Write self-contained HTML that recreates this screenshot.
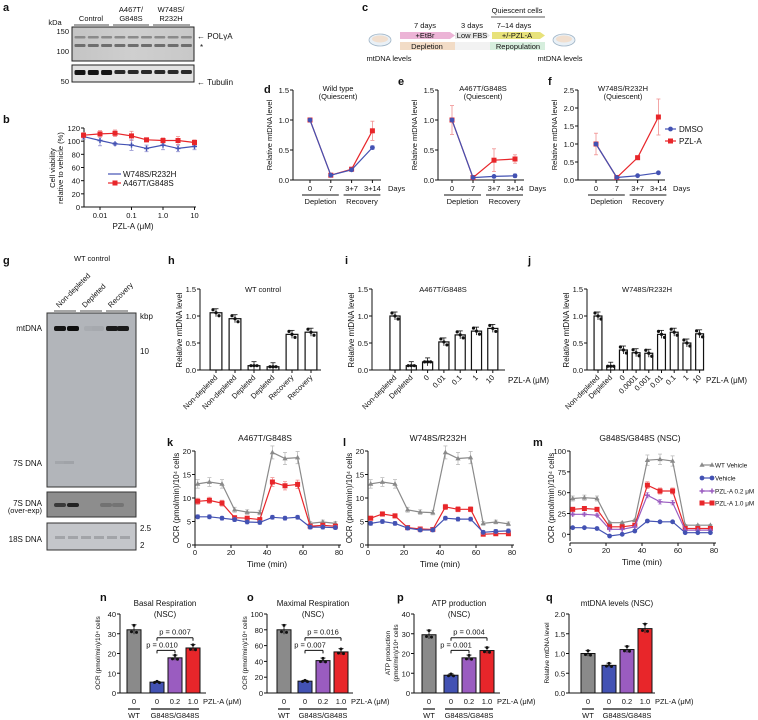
<!DOCTYPE html>
<html><head><meta charset="utf-8">
<style>
html,body{margin:0;padding:0;background:#fff;}
svg{display:block;font-family:"Liberation Sans",Arial,sans-serif;}
</style></head>
<body>
<svg id="fig" width="758" height="720" viewBox="0 0 758 720" xmlns="http://www.w3.org/2000/svg">
<defs>
<linearGradient id="blotg" x1="0" y1="0" x2="1" y2="0"><stop offset="0" stop-color="#c4c4c4"/><stop offset="0.5" stop-color="#cfcfcf"/><stop offset="1" stop-color="#c8c8c8"/></linearGradient>
</defs>
</svg>
<script>
// ---------- DATA ----------
const bConc = [0.003, 0.01, 0.03, 0.1, 0.3, 1, 3, 10];
const bBlue = [107, 101, 96, 94, 89, 94, 89, 92];
const bRed = [109, 111, 112, 108, 102, 101, 101, 98];
const bTicksY = [0, 20, 40, 60, 80, 100, 120];
const bTicksX = [0.01, 0.1, 1, 10];
const bTickLabels = ["0.01", "0.1", "1.0", "10"];
const qDays = ["0", "7", "3+7", "3+14"];
const dBlue = [1.0, 0.08, 0.17, 0.54];
const dRed = [1.0, 0.08, 0.18, 0.82];
const eBlue = [1.0, 0.04, 0.06, 0.07];
const eRed = [1.0, 0.04, 0.33, 0.35];
const fBlue = [1.0, 0.07, 0.12, 0.20];
const fRed = [1.0, 0.07, 0.62, 1.75];
const fRedErr = [0.3, 0.03, 0.05, 0.5];
const eRedErr = [0.24, 0.02, 0.19, 0.07];
const hCats = ["Non-depleted", "Non-depleted", "Depleted", "Depleted", "Recovery", "Recovery"];
const hVals = [1.06, 0.95, 0.08, 0.06, 0.66, 0.70];
const iCats = ["Non-depleted", "Depleted", "0", "0.01", "0.1", "1", "10"];
const iVals = [1.0, 0.08, 0.15, 0.52, 0.65, 0.72, 0.77];
const jCats = ["Non-depleted", "Depleted", "0", "0.0001", "0.001", "0.01", "0.1", "1", "10"];
const jVals = [1.0, 0.07, 0.37, 0.32, 0.31, 0.66, 0.70, 0.50, 0.67];
const times = [1.5, 8, 15, 22, 29, 36, 43, 50, 57, 64, 71, 78];
const kGray = [13, 13.4, 13, 7.5, 7, 6.9, 19.7, 18.4, 18.6, 4.6, 4.9, 4.6];
const kRed = [9.3, 9.5, 8.9, 5.8, 5.7, 5.4, 13.4, 12.6, 12.9, 4.0, 4.2, 4.0];
const kBlue = [6, 6, 5.7, 5.4, 4.9, 4.8, 5.9, 5.7, 5.9, 3.8, 3.8, 3.7];
const lGray = [13, 13.4, 13, 7.5, 7, 6.9, 19.7, 18.4, 18.6, 4.6, 4.9, 4.5];
const lRed = [5.7, 6.6, 6.2, 3.7, 3.4, 3.3, 8.1, 7.6, 7.6, 2.3, 2.4, 2.4];
const lBlue = [4.6, 5.0, 4.6, 3.6, 3.2, 3.2, 5.7, 5.5, 5.5, 2.7, 2.9, 3.0];
const mGray = [43, 44, 43, 14, 14, 17, 89, 90, 88, 11, 11, 11];
const mRed = [30, 31, 30, 9, 9, 11, 59, 52, 52, 7, 7, 7];
const mPurple = [24, 24, 23, 6, 6, 9, 47, 39, 38, 5, 5, 5];
const mBlue = [8, 8, 7, -2, 0, 4, 16, 15, 15, 2, 2, 2];
const nVals = [32, 5.5, 17.8, 22.8];
const oVals = [80, 15, 41, 52];
const pVals = [29.5, 9, 17.8, 21.5];
const qVals = [1.0, 0.7, 1.1, 1.63];
const nopqLabels = ["0", "0", "0.2", "1.0"];

// ---------- HELPERS ----------
const svg = document.getElementById('fig');
const NS = 'http://www.w3.org/2000/svg';
const RED = '#e8262a', BLUE = '#4352b3', GRAY = '#8a8a8a', PURPLE = '#9a5cc0';
function mk(tag, attrs, name) {
  const el = document.createElementNS(NS, tag);
  for (const k in attrs) el.setAttribute(k, attrs[k]);
  
  
  svg.appendChild(el);
  return el;
}
function txt(x, y, s, name, size, anchor, opts) {
  opts = opts || {};
  const a = {x: x, y: y, 'font-size': size || 8, 'text-anchor': anchor || 'middle', fill: opts.fill || '#111'};
  if (opts.rot !== undefined) a.transform = 'rotate(' + opts.rot + ' ' + x + ' ' + y + ')';
  if (opts.bold) a['font-weight'] = 'bold';
  const t = mk('text', a, name);
  t.textContent = s;
  return t;
}
function line(x1, y1, x2, y2, name, color, w) {
  return mk('line', {x1: x1, y1: y1, x2: x2, y2: y2, stroke: color || '#111', 'stroke-width': w || 1}, name);
}
function lin(d0, d1, r0, r1) { return v => r0 + (v - d0) * (r1 - r0) / (d1 - d0); }
function yAxis(x, scale, ticks, fmt, name) {
  line(x, scale(ticks[0]), x, scale(ticks[ticks.length - 1]), name + '-line');
  ticks.forEach(t => {
    line(x - 3, scale(t), x, scale(t), name + '-tick');
    txt(x - 4, scale(t) + 3, fmt(t), name + '-label', 7.5, 'end');
  });
}
function series(xs, ys, sx, sy, color, marker, name) {
  const pts = xs.map((x, i) => sx(x).toFixed(1) + ',' + sy(ys[i]).toFixed(1)).join(' ');
  mk('polyline', {points: pts, fill: 'none', stroke: color, 'stroke-width': 1.2}, name + '-line');
  xs.forEach((x, i) => {
    const cx = sx(x), cy = sy(ys[i]);
    if (marker === 'sq') mk('rect', {x: cx - 2.5, y: cy - 2.5, width: 5, height: 5, fill: color}, name + '-point');
    else if (marker === 'tri') mk('polygon', {points: (cx) + ',' + (cy - 2.8) + ' ' + (cx - 2.6) + ',' + (cy + 1.8) + ' ' + (cx + 2.6) + ',' + (cy + 1.8), fill: color}, name + '-point');
    else if (marker === 'plus') { line(cx - 2.5, cy, cx + 2.5, cy, name + '-point', color, 1.5); line(cx, cy - 2.5, cx, cy + 2.5, name + '-point', color, 1.5); }
    else mk('circle', {cx: cx, cy: cy, r: 2.4, fill: color}, name + '-point');
  });
}
function errbars(xs, ys, es, sx, sy, color, name) {
  xs.forEach((x, i) => {
    const cx = sx(x);
    line(cx, sy(ys[i] - es[i]), cx, sy(ys[i] + es[i]), name, color, 0.8);
    line(cx - 2, sy(ys[i] + es[i]), cx + 2, sy(ys[i] + es[i]), name, color, 0.8);
    line(cx - 2, sy(ys[i] - es[i]), cx + 2, sy(ys[i] - es[i]), name, color, 0.8);
  });
}
function letter(x, y, s) { txt(x, y, s, 'panel-label-' + s, 11, 'start', {bold: true}); }

// ---------- PANEL A ----------
letter(3, 11, 'a');
txt(55, 25, 'kDa', 'a-kda-label', 7.5, 'middle');
[['Control', 91, 74, 109], ['A467T/', 131, 113, 149, 'G848S'], ['W748S/', 171, 153, 190, 'R232H']].forEach(g => {
  if (g[4]) { txt(g[1], 12, g[0], 'a-lane-group-label', 7.5); txt(g[1], 21, g[4], 'a-lane-group-label', 7.5); }
  else txt(g[1], 21, g[0], 'a-lane-group-label', 7.5);
  line(g[2], 25, g[3], 25, 'a-lane-group-line', '#888', 1.5);
});
mk('rect', {x: 72, y: 27, width: 122, height: 34, fill: 'url(#blotg)', stroke: '#222', 'stroke-width': 1}, 'a-blot-polga');
mk('rect', {x: 72, y: 65, width: 122, height: 17, fill: '#e2e2e2', stroke: '#222', 'stroke-width': 1}, 'a-blot-tubulin');
for (let i = 0; i < 9; i++) {
  const cx = 80 + i * 13.3;
  mk('rect', {x: cx - 5.5, y: 36, width: 11, height: 2.5, fill: '#8a8a8a', rx: 1}, 'a-band-polga');
  mk('rect', {x: cx - 5.5, y: 44, width: 11, height: 3, fill: '#6e6e6e', rx: 1}, 'a-band-nonspecific');
  mk('rect', {x: cx - 5.5, y: 70, width: 11, height: i < 3 ? 5 : 4, fill: i < 3 ? '#151515' : '#2a2a2a', rx: 1.5}, 'a-band-tubulin');
}
txt(69, 34, '150', 'a-mw-150', 7.5, 'end');
txt(69, 54, '100', 'a-mw-100', 7.5, 'end');
txt(69, 84, '50', 'a-mw-50', 7.5, 'end');
txt(197, 39, '← POLγA', 'a-polga-label', 8, 'start');
txt(200, 50, '*', 'a-star', 8, 'start');
txt(197, 85, '← Tubulin', 'a-tubulin-label', 8, 'start');

// ---------- PANEL B ----------
letter(3, 123, 'b');
const bx = v => 100 + (Math.log10(v) + 2) * 31.5;
const by = lin(0, 120, 207, 128);
yAxis(84, by, bTicksY, t => t, 'b-y-axis');
line(84, 207, 196, 207, 'b-x-axis');
bTicksX.forEach((t, i) => { line(bx(t), 207, bx(t), 210, 'b-x-tick'); txt(bx(t), 218, bTickLabels[i], 'b-x-tick-label', 7.5); });
txt(133, 229, 'PZL-A (μM)', 'b-x-axis-title', 8);
txt(55, 168, 'Cell viability', 'b-y-axis-title', 7.5, 'middle', {rot: -90});
txt(63, 168, 'relative to vehicle (%)', 'b-y-axis-title', 7.5, 'middle', {rot: -90});
errbars(bConc, bRed, [4, 5, 5, 7, 3, 4, 6, 4], bx, by, '#f09090', 'b-red-errorbar');
errbars(bConc, bBlue, [4, 8, 2, 8, 5, 7, 5, 5], bx, by, '#9090d0', 'b-blue-errorbar');
series(bConc, bBlue, bx, by, BLUE, 'plus', 'b-w748s');
series(bConc, bRed, bx, by, RED, 'sq', 'b-a467t');
line(108, 174, 121, 174, 'b-legend-w748s-line', BLUE, 1.2);
line(108, 183, 121, 183, 'b-legend-a467t-line', RED, 1.2);
mk('rect', {x: 112.5, y: 180.5, width: 5, height: 5, fill: RED}, 'b-legend-a467t-marker');
txt(123, 177, 'W748S/R232H', 'b-legend-w748s', 8, 'start');
txt(123, 186, 'A467T/G848S', 'b-legend-a467t', 8, 'start');

// ---------- PANEL C ----------
letter(362, 11, 'c');
function dish(cx, cy, nm) {
  mk('ellipse', {cx: cx, cy: cy, rx: 11, ry: 6, fill: '#e9f0f6', stroke: '#9fb4c6', 'stroke-width': 0.8}, nm);
  mk('ellipse', {cx: cx, cy: cy - 1, rx: 8, ry: 3.5, fill: '#f1dfcf', stroke: 'none'}, nm + '-cells');
}
dish(380, 40, 'c-dish-start');
dish(564, 40, 'c-dish-end');
txt(389, 61, 'mtDNA levels', 'c-start-label', 7.5);
txt(560, 61, 'mtDNA levels', 'c-end-label', 7.5);
mk('polygon', {points: '400,32 450,32 455,35.5 450,39 400,39', fill: '#ecb4d6'}, 'c-etbr-arrow');
mk('polygon', {points: '455,32 486,32 490,35.5 486,39 455,39', fill: '#e6e6e6'}, 'c-lowfbs-arrow');
mk('polygon', {points: '492,32 540,32 545,35.5 540,39 492,39', fill: '#e8e27a'}, 'c-pzla-arrow');
mk('rect', {x: 400, y: 42, width: 55, height: 8, fill: '#f2dcc6'}, 'c-depletion-bar');
mk('rect', {x: 455, y: 42, width: 35, height: 8, fill: '#f2f2f2'}, 'c-gap-bar');
mk('rect', {x: 490, y: 42, width: 55, height: 8, fill: '#d6eedd'}, 'c-repopulation-bar');
txt(425, 38, '+EtBr', 'c-etbr-text', 7.5);
txt(472, 38, 'Low FBS', 'c-lowfbs-text', 7.5);
txt(517, 38, '+/-PZL-A', 'c-pzla-text', 7.5);
txt(427, 49, 'Depletion', 'c-depletion-text', 7.5);
txt(518, 49, 'Repopulation', 'c-repopulation-text', 7.5);
txt(425, 28, '7 days', 'c-7days', 7.5);
txt(472, 28, '3 days', 'c-3days', 7.5);
txt(514, 28, '7–14 days', 'c-714days', 7.5);
txt(517, 13, 'Quiescent cells', 'c-quiescent-label', 7.5);
line(491, 17, 545, 17, 'c-quiescent-line', '#222', 0.8);

// ---------- PANELS D E F ----------
function quiescent(opt) {
  const sx = i => opt.x0 + i * opt.dx;
  const sy = lin(0, opt.max, 180, 90);
  const idx = [0, 1, 2, 3];
  yAxis(opt.ax, sy, opt.ticks, t => t.toFixed(1), opt.id + '-y-axis');
  line(opt.ax, 180, opt.ax + opt.len, 180, opt.id + '-x-axis');
  qDays.forEach((d, i) => { line(sx(i), 180, sx(i), 183, opt.id + '-x-tick'); txt(sx(i), 191, d, opt.id + '-x-tick-label', 7.5); });
  txt(opt.daysX, 191, 'Days', opt.id + '-days-label', 7.5, 'start');
  line(sx(0) - 8, 195, sx(1) + 8, 195, opt.id + '-depletion-line');
  line(sx(2) - 8, 195, sx(3) + 8, 195, opt.id + '-recovery-line');
  txt((sx(0) + sx(1)) / 2, 204, 'Depletion', opt.id + '-depletion-label', 7.5);
  txt((sx(2) + sx(3)) / 2, 204, 'Recovery', opt.id + '-recovery-label', 7.5);
  txt(opt.ax - 21, 135, 'Relative mtDNA level', opt.id + '-y-axis-title', 7.5, 'middle', {rot: -90});
  txt(opt.ax + 45, 91, opt.title, opt.id + '-title', 7.5);
  txt(opt.ax + 45, 99, '(Quiescent)', opt.id + '-subtitle', 7.5);
  if (opt.rErr) errbars(idx, opt.red, opt.rErr, sx, sy, '#f09090', opt.id + '-red-errorbar');
  errbars(idx, opt.blue, [0.03, 0.01, 0.01, 0.03], sx, sy, '#9090d0', opt.id + '-blue-errorbar');
  series(idx, opt.red, sx, sy, RED, 'sq', opt.id + '-pzla');
  series(idx, opt.blue, sx, sy, BLUE, 'circ', opt.id + '-dmso');
}
letter(264, 93, 'd');
quiescent({id: 'd', x0: 310, dx: 20.8, ax: 293, len: 88, max: 1.5, ticks: [0, 0.5, 1.0, 1.5], blue: dBlue, red: dRed, rErr: [0.03, 0.01, 0.02, 0.16], title: 'Wild type', daysX: 388});
letter(398, 85, 'e');
quiescent({id: 'e', x0: 452, dx: 21, ax: 438, len: 86, max: 1.5, ticks: [0, 0.5, 1.0, 1.5], blue: eBlue, red: eRed, rErr: eRedErr, title: 'A467T/G848S', daysX: 529});
letter(548, 85, 'f');
quiescent({id: 'f', x0: 596, dx: 20.8, ax: 578, len: 87, max: 2.5, ticks: [0, 0.5, 1.0, 1.5, 2.0, 2.5], blue: fBlue, red: fRed, rErr: fRedErr, title: 'W748S/R232H', daysX: 673});
line(665, 129, 676, 129, 'f-legend-dmso-line', BLUE, 1.2);
mk('circle', {cx: 670.5, cy: 129, r: 2.4, fill: BLUE}, 'f-legend-dmso-marker');
txt(679, 132, 'DMSO', 'f-legend-dmso', 8, 'start');
line(665, 141, 676, 141, 'f-legend-pzla-line', RED, 1.2);
mk('rect', {x: 668, y: 138.5, width: 5, height: 5, fill: RED}, 'f-legend-pzla-marker');
txt(679, 144, 'PZL-A', 'f-legend-pzla', 8, 'start');

// ---------- PANEL G ----------
letter(3, 264, 'g');
txt(92, 261, 'WT control', 'g-title', 7.5);
[['Non-depleted', 65, 54, 76], ['Depleted', 91, 80, 102], ['Recovery', 117, 106, 128]].forEach(l => {
  txt(l[1] - 6, 308, l[0], 'g-lane-label', 7.5, 'start', {rot: -45});
  line(l[2], 311, l[3], 311, 'g-lane-line', '#888', 1.5);
});
mk('rect', {x: 47, y: 313, width: 89, height: 174, fill: '#b2b5ba', stroke: '#333', 'stroke-width': 1}, 'g-southern-blot');
mk('rect', {x: 47, y: 492, width: 89, height: 25, fill: '#8d8d8d', stroke: '#333', 'stroke-width': 1}, 'g-7s-overexp-blot');
mk('rect', {x: 47, y: 523, width: 89, height: 27, fill: '#c4c6ca', stroke: '#333', 'stroke-width': 1}, 'g-18s-blot');
[[60, '#151515'], [73, '#0d0d0d'], [90, '#a8abb0'], [98, '#a6a9ae'], [112, '#1a1a1a'], [123, '#1a1a1a']].forEach(b => {
  mk('rect', {x: b[0] - 6, y: 326, width: 12, height: 5, rx: 2, fill: b[1]}, 'g-mtdna-band');
});
[[60, '#a3a6ab'], [69, '#a0a3a8']].forEach(b => mk('rect', {x: b[0] - 5, y: 461, width: 10, height: 3, fill: b[1]}, 'g-7s-band'));
[[60, '#3a3a3a'], [73, '#222'], [106, '#727272'], [118, '#747474']].forEach(b => mk('rect', {x: b[0] - 6, y: 503, width: 12, height: 4, rx: 2, fill: b[1]}, 'g-7s-overexp-band'));
for (let i = 0; i < 6; i++) mk('rect', {x: 55 + i * 13, y: 536, width: 10, height: 3, fill: '#a2a4a8'}, 'g-18s-band');
txt(42, 331, 'mtDNA', 'g-mtdna-label', 8, 'end');
txt(140, 319, 'kbp', 'g-kbp-label', 8, 'start');
txt(140, 354, '10', 'g-10kbp', 8, 'start');
txt(42, 466, '7S DNA', 'g-7s-label', 8, 'end');
txt(42, 506, '7S DNA', 'g-7s-overexp-label', 8, 'end');
txt(42, 513, '(over-exp)', 'g-7s-overexp-sub', 7.5, 'end');
txt(42, 542, '18S DNA', 'g-18s-label', 8, 'end');
txt(140, 531, '2.5', 'g-25kbp', 8, 'start');
txt(140, 548, '2', 'g-2kbp', 8, 'start');

// ---------- PANELS H I J ----------
function barPanel(opt) {
  const sy = lin(0, 1.5, 370, 289);
  const sx = i => opt.x0 + i * opt.dx;
  yAxis(opt.ax, sy, [0, 0.5, 1.0, 1.5], t => t.toFixed(1), opt.id + '-y-axis');
  line(opt.ax, 370, opt.end, 370, opt.id + '-x-axis');
  opt.vals.forEach((v, i) => {
    const cx = sx(i), w = opt.dx * 0.62;
    mk('rect', {x: cx - w / 2, y: sy(v), width: w, height: 370 - sy(v), fill: '#fff', stroke: '#111', 'stroke-width': 1.2}, opt.id + '-bar-' + i);
    line(cx, sy(v) - 4, cx, sy(v) + 4, opt.id + '-errorbar', '#111', 0.8);
    line(cx - 2.5, sy(v) - 4, cx + 2.5, sy(v) - 4, opt.id + '-errorbar', '#111', 0.8);
    [-3, 0, 3].forEach((o, k) => mk('circle', {cx: cx + o, cy: sy(v) + (k - 1) * 3 * (v > 0.2 ? 1 : 0), r: 1.6, fill: '#111'}, opt.id + '-dot'));
    line(cx, 370, cx, 373, opt.id + '-x-tick');
    txt(cx + 2, 378, opt.cats[i], opt.id + '-x-tick-label', 7.5, 'end', {rot: -45});
  });
  txt(opt.ax - 18, 330, 'Relative mtDNA level', opt.id + '-y-axis-title', 8, 'middle', {rot: -90});
  txt(opt.titleX, 292, opt.title, opt.id + '-title', 7.5);
  if (opt.unit) txt(opt.end + 3, 383, 'PZL-A (μM)', opt.id + '-unit-label', 8, 'start');
}
letter(168, 264, 'h');
barPanel({id: 'h', ax: 200, x0: 216, dx: 19, end: 321, vals: hVals, cats: hCats, title: 'WT control', titleX: 263});
letter(345, 264, 'i');
barPanel({id: 'i', ax: 372, x0: 395, dx: 16.3, end: 505, vals: iVals, cats: iCats, title: 'A467T/G848S', titleX: 443, unit: true});
letter(528, 264, 'j');
barPanel({id: 'j', ax: 587, x0: 598, dx: 12.7, end: 703, vals: jVals, cats: jCats, title: 'W748S/R232H', titleX: 647, unit: true});

// ---------- PANELS K L M ----------
function ocrPanel(opt) {
  const sx = lin(0, 80, opt.ax, opt.ax + 144);
  const sy = lin(opt.min, opt.max, opt.y0, 451);
  line(opt.ax, sy(opt.min), opt.ax, 451, opt.id + '-y-axis-line');
  opt.ticks.forEach(t => { line(opt.ax - 3, sy(t), opt.ax, sy(t), opt.id + '-y-tick'); txt(opt.ax - 4, sy(t) + 3, t, opt.id + '-y-tick-label', 7.5, 'end'); });
  const xb = opt.min < 0 ? sy(opt.min) + 2 : opt.y0;
  line(opt.ax, xb, opt.ax + 146, xb, opt.id + '-x-axis');
  [0, 20, 40, 60, 80].forEach(t => { line(sx(t), xb, sx(t), xb + 3, opt.id + '-x-tick'); txt(sx(t), xb + 10, t, opt.id + '-x-tick-label', 7.5); });
  txt(opt.ax + 72, xb + 22, 'Time (min)', opt.id + '-x-axis-title', 8.5);
  txt(opt.ax - 16, 498, 'OCR (pmol/min)/10⁴ cells', opt.id + '-y-axis-title', 8, 'middle', {rot: -90});
  txt(opt.ax + 70, 441, opt.title, opt.id + '-title', 8.5);
  opt.series.forEach(s => {
    errbars(times, s.v, s.v.map(v => Math.max(0.4, Math.abs(v) * 0.07)), sx, sy, s.ec, opt.id + '-' + s.n + '-errorbar');
    series(times, s.v, sx, sy, s.c, s.m, opt.id + '-' + s.n);
  });
}
letter(167, 446, 'k');
ocrPanel({id: 'k', ax: 195, y0: 545, min: 0, max: 20, ticks: [0, 5, 10, 15, 20], title: 'A467T/G848S',
  series: [{n: 'wt-vehicle', v: kGray, c: GRAY, ec: '#bbb', m: 'tri'}, {n: 'pzla-1', v: kRed, c: RED, ec: '#f09090', m: 'sq'}, {n: 'vehicle', v: kBlue, c: BLUE, ec: '#9090d0', m: 'circ'}]});
letter(343, 446, 'l');
ocrPanel({id: 'l', ax: 368, y0: 545, min: 0, max: 20, ticks: [0, 5, 10, 15, 20], title: 'W748S/R232H',
  series: [{n: 'wt-vehicle', v: lGray, c: GRAY, ec: '#bbb', m: 'tri'}, {n: 'pzla-1', v: lRed, c: RED, ec: '#f09090', m: 'sq'}, {n: 'vehicle', v: lBlue, c: BLUE, ec: '#9090d0', m: 'circ'}]});
letter(533, 446, 'm');
ocrPanel({id: 'm', ax: 570, y0: 541, min: -8, max: 100, ticks: [0, 25, 50, 75, 100], title: 'G848S/G848S (NSC)',
  series: [{n: 'wt-vehicle', v: mGray, c: GRAY, ec: '#bbb', m: 'tri'}, {n: 'pzla-1', v: mRed, c: RED, ec: '#f09090', m: 'sq'}, {n: 'pzla-02', v: mPurple, c: PURPLE, ec: '#c8a8e0', m: 'plus'}, {n: 'vehicle', v: mBlue, c: BLUE, ec: '#9090d0', m: 'circ'}]});
[['WT Vehicle', GRAY, 'tri', 465], ['Vehicle', BLUE, 'circ', 478], ['PZL-A 0.2 μM', PURPLE, 'plus', 491], ['PZL-A 1.0 μM', RED, 'sq', 503]].forEach(l => {
  series([0, 1], [0, 0], i => 702 + i * 10, () => l[3], l[1], l[2], 'm-legend-marker');
  txt(715, l[3] + 2.5, l[0], 'm-legend-entry', 6.4, 'start');
});

// ---------- PANELS N O P Q ----------
function nsc(opt) {
  const sy = lin(0, opt.max, 693, 614);
  yAxis(opt.ax, sy, opt.ticks, opt.fmt, opt.id + '-y-axis');
  line(opt.ax, 693, opt.ax + 86, 693, opt.id + '-x-axis');
  const cols = [GRAY, BLUE, PURPLE, RED];
  opt.vals.forEach((v, i) => {
    const cx = opt.xs[i];
    mk('rect', {x: cx - 7, y: sy(v), width: 14, height: 693 - sy(v), fill: cols[i], stroke: '#111', 'stroke-width': 1}, opt.id + '-bar-' + i);
    line(cx, sy(v * 1.08), cx, sy(v * 0.93), opt.id + '-errorbar', '#111', 0.8);
    line(cx - 2.5, sy(v * 1.08), cx + 2.5, sy(v * 1.08), opt.id + '-errorbar', '#111', 0.8);
    mk('circle', {cx: cx, cy: sy(v * 1.07), r: 1.5, fill: '#111'}, opt.id + '-dot');
    mk('circle', {cx: cx - 2.5, cy: sy(v * 0.97), r: 1.5, fill: '#111'}, opt.id + '-dot');
    mk('circle', {cx: cx + 2.5, cy: sy(v * 0.96), r: 1.5, fill: '#111'}, opt.id + '-dot');
    txt(cx, 704, nopqLabels[i], opt.id + '-x-tick-label', 7.5);
  });
  txt(opt.xs[3] + 10, 704, 'PZL-A (μM)', opt.id + '-unit-label', 7.5, 'start');
  line(opt.xs[0] - 6, 709, opt.xs[0] + 6, 709, opt.id + '-wt-line', '#111', 1.2);
  txt(opt.xs[0], 718, 'WT', opt.id + '-wt-label', 7.5);
  line(opt.xs[1] - 6, 709, opt.xs[3] + 6, 709, opt.id + '-mut-line', '#111', 1.2);
  txt(opt.xs[2], 718, 'G848S/G848S', opt.id + '-mut-label', 7.5);
  txt(opt.xs[2] - 10, 606, opt.title, opt.id + '-title', 8);
  if (opt.sub) txt(opt.xs[2] - 10, 617, opt.sub, opt.id + '-subtitle', 8);
  opt.ylab.forEach((s, k) => txt(opt.ax - 20 + k * 8 - (opt.ylab.length - 1) * 4, 653, s, opt.id + '-y-axis-title', 6.5, 'middle', {rot: -90}));
  if (opt.p) {
    const hi = sy(opt.max * 0.7), lo = sy(opt.max * 0.54);
    line(opt.xs[1], hi + 3, opt.xs[1], hi, opt.id + '-bracket-high'); line(opt.xs[1], hi, opt.xs[3], hi, opt.id + '-bracket-high'); line(opt.xs[3], hi, opt.xs[3], hi + 3, opt.id + '-bracket-high');
    line(opt.xs[1], lo + 3, opt.xs[1], lo, opt.id + '-bracket-low'); line(opt.xs[1], lo, opt.xs[2], lo, opt.id + '-bracket-low'); line(opt.xs[2], lo, opt.xs[2], lo + 3, opt.id + '-bracket-low');
    txt((opt.xs[1] + opt.xs[3]) / 2, hi - 3, 'p = ' + opt.p[0], opt.id + '-pvalue-high', 7.5);
    txt((opt.xs[1] + opt.xs[2]) / 2 - 4, lo - 3, 'p = ' + opt.p[1], opt.id + '-pvalue-low', 7.5);
  }
}
letter(100, 601, 'n');
nsc({id: 'n', ax: 120, xs: [134, 157, 175, 193], max: 40, ticks: [0, 10, 20, 30, 40], fmt: t => t, vals: nVals, title: 'Basal Respiration', sub: '(NSC)', ylab: ['OCR (pmol/min)/10⁴ cells'], p: ['0.007', '0.010']});
letter(247, 601, 'o');
nsc({id: 'o', ax: 267, xs: [284, 305, 323, 341], max: 100, ticks: [0, 20, 40, 60, 80, 100], fmt: t => t, vals: oVals, title: 'Maximal Respiration', sub: '(NSC)', ylab: ['OCR (pmol/min)/10⁴ cells'], p: ['0.016', '0.007']});
letter(397, 601, 'p');
nsc({id: 'p', ax: 414, xs: [429, 451, 469, 487], max: 40, ticks: [0, 10, 20, 30, 40], fmt: t => t, vals: pVals, title: 'ATP production', sub: '(NSC)', ylab: ['ATP production', '(pmol/min)/10⁴ cells'], p: ['0.004', '0.001']});
letter(546, 601, 'q');
nsc({id: 'q', ax: 569, xs: [588, 609, 627, 645], max: 2.0, ticks: [0, 0.5, 1.0, 1.5, 2.0], fmt: t => t.toFixed(1), vals: qVals, title: 'mtDNA levels (NSC)', ylab: ['Relative mtDNA level']});
</script>
</body></html>
